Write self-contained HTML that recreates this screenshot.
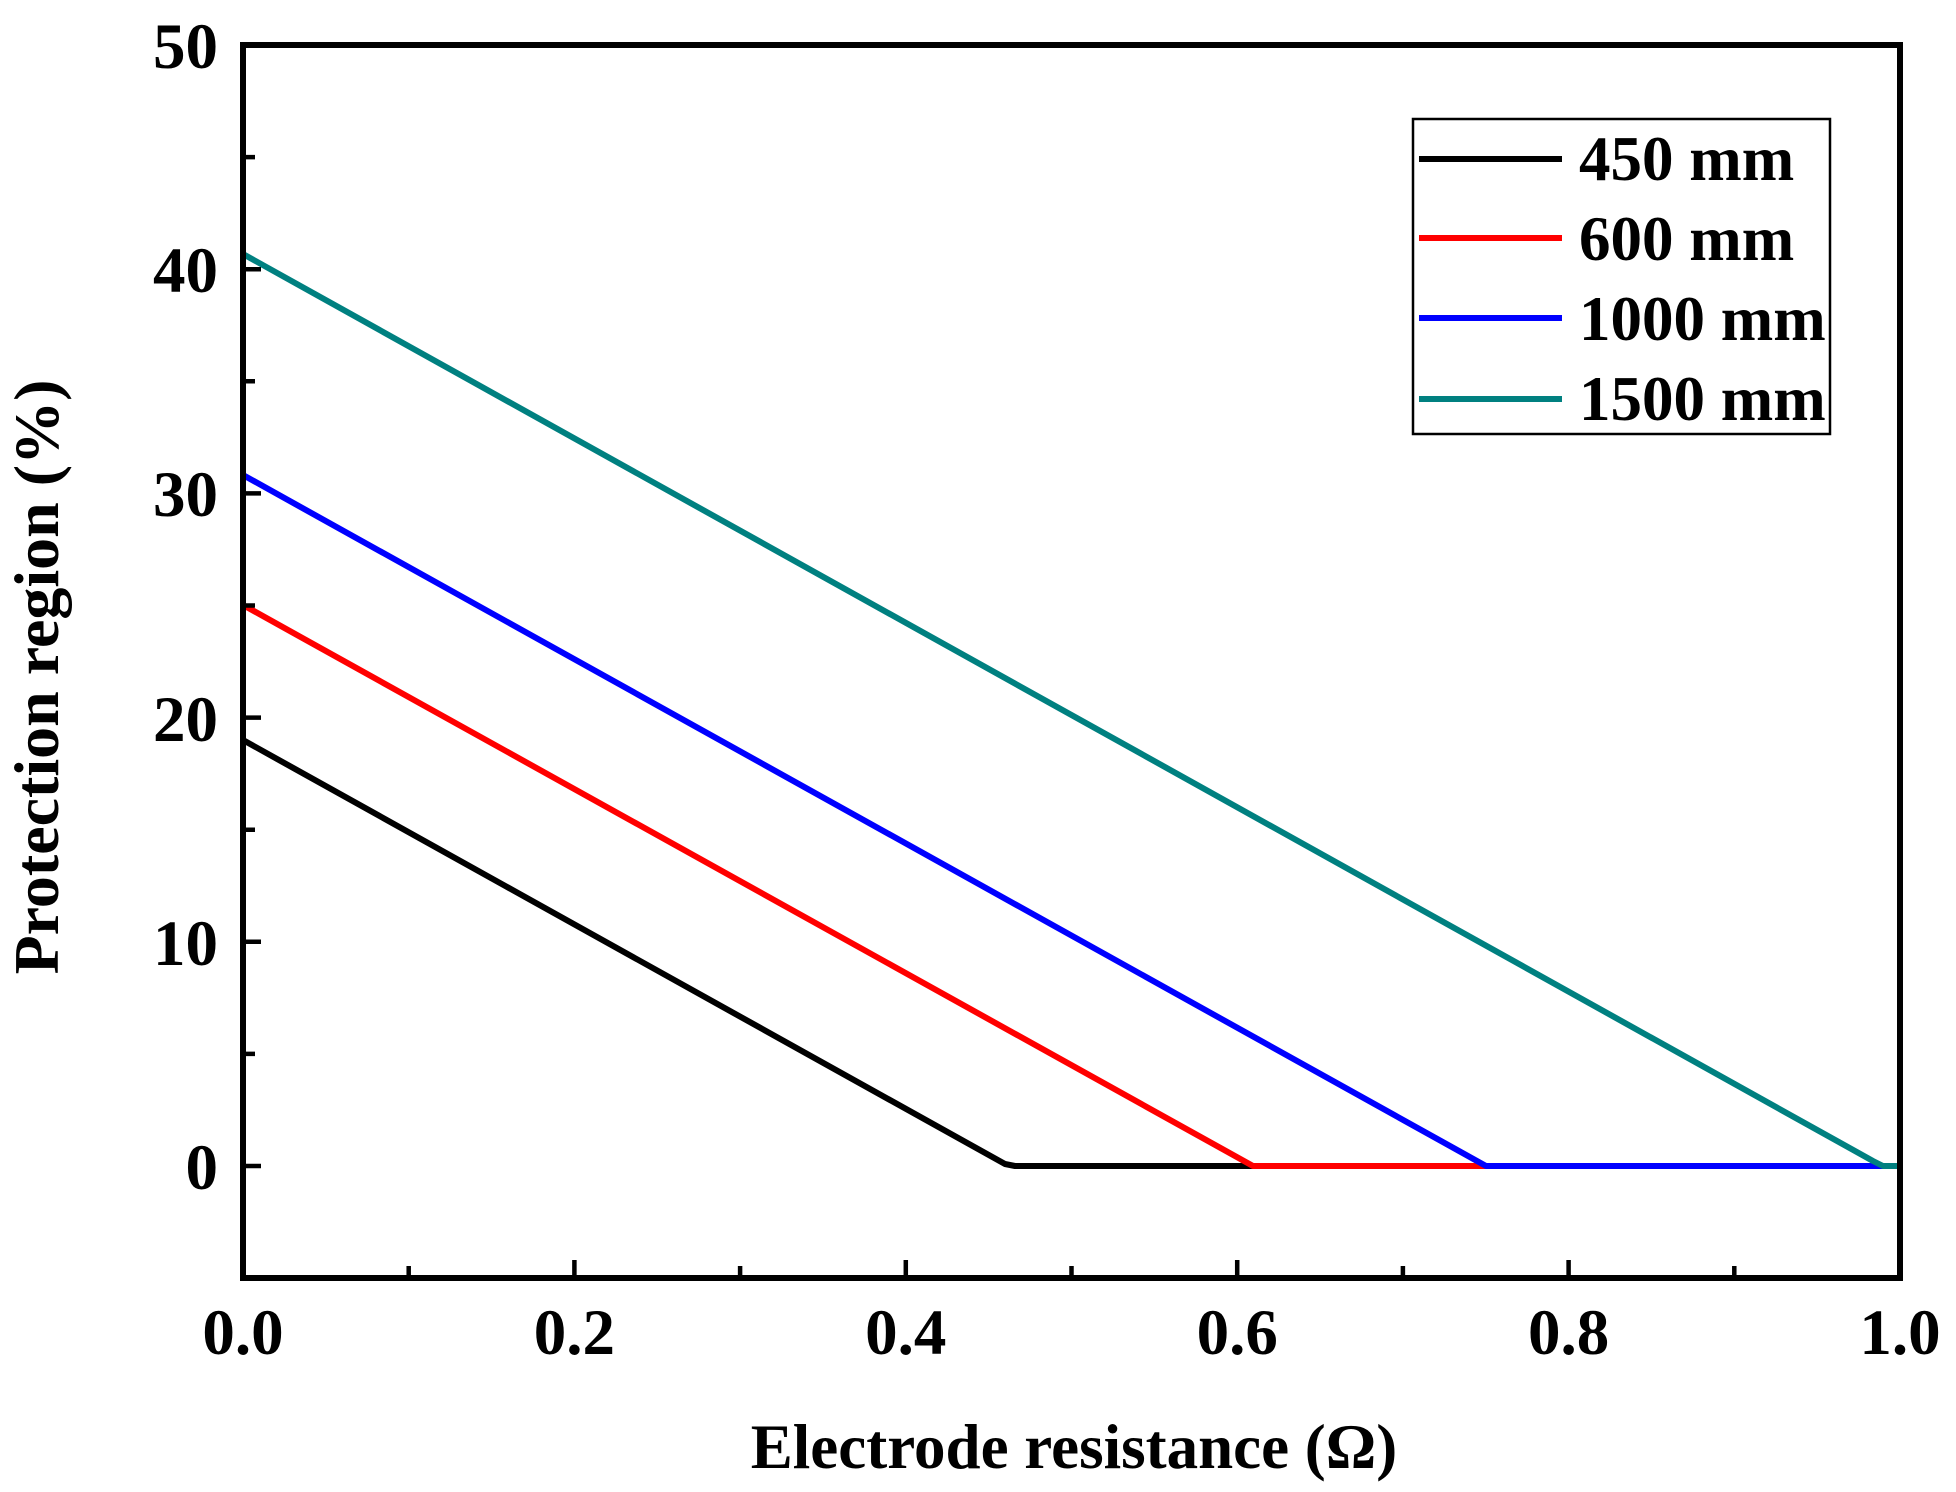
<!DOCTYPE html>
<html><head><meta charset="utf-8"><style>body{margin:0;background:#fff}svg{display:block}text{font-family:"Liberation Serif",serif;font-weight:bold;fill:#000}</style></head>
<body>
<svg width="1956" height="1492" viewBox="0 0 1956 1492">
<g stroke-width="6" fill="none" stroke-linejoin="round">
<polyline stroke="#000" points="243,740 1005,1164 1015,1166 1900,1166"/>
<polyline stroke="#f00" points="243,605 1253,1166 1900,1166"/>
<polyline stroke="#00f" points="243,475 1486,1166 1900,1166"/>
<polyline stroke="#008080" points="243,254 1873,1161 1883,1166 1900,1166"/>
</g>
<rect x="243" y="45" width="1657" height="1233" fill="none" stroke="#000" stroke-width="6"/>
<g stroke="#000" stroke-width="4.5">
<path d="M574.4,1278v-18M905.8,1278v-18M1237.2,1278v-18M1568.6,1278v-18"/>
<path d="M408.7,1278v-12M740.1,1278v-12M1071.5,1278v-12M1402.9,1278v-12M1734.3,1278v-12"/>
<path d="M243,1166h18M243,941.8h18M243,717.6h18M243,493.4h18M243,269.2h18"/>
<path d="M243,1053.9h12M243,829.7h12M243,605.5h12M243,381.3h12M243,157.1h12"/>
</g>
<g font-size="65" text-anchor="end">
<text x="218" y="1189">0</text><text x="218" y="965">10</text><text x="218" y="741">20</text><text x="218" y="516">30</text><text x="218" y="292">40</text><text x="218" y="68">50</text>
</g>
<g font-size="65" text-anchor="middle">
<text x="243" y="1354">0.0</text><text x="574.4" y="1354">0.2</text><text x="905.8" y="1354">0.4</text><text x="1237.2" y="1354">0.6</text><text x="1568.6" y="1354">0.8</text><text x="1900" y="1354">1.0</text>
</g>
<text x="1074" y="1468" font-size="63" text-anchor="middle">Electrode resistance (Ω)</text>
<text transform="translate(58,677) rotate(-90)" font-size="64" text-anchor="middle">Protection region (%)</text>
<rect x="1413" y="119" width="417" height="315" fill="#fff" stroke="#000" stroke-width="2.5"/>
<g stroke-width="6">
<path d="M1419,159h143" stroke="#000"/><path d="M1419,238h143" stroke="#f00"/><path d="M1419,318h143" stroke="#00f"/><path d="M1419,399h143" stroke="#008080"/>
</g>
<g font-size="63">
<text x="1579" y="180">450 mm</text><text x="1579" y="260">600 mm</text><text x="1579" y="340">1000 mm</text><text x="1579" y="420">1500 mm</text>
</g>
</svg>
</body></html>
